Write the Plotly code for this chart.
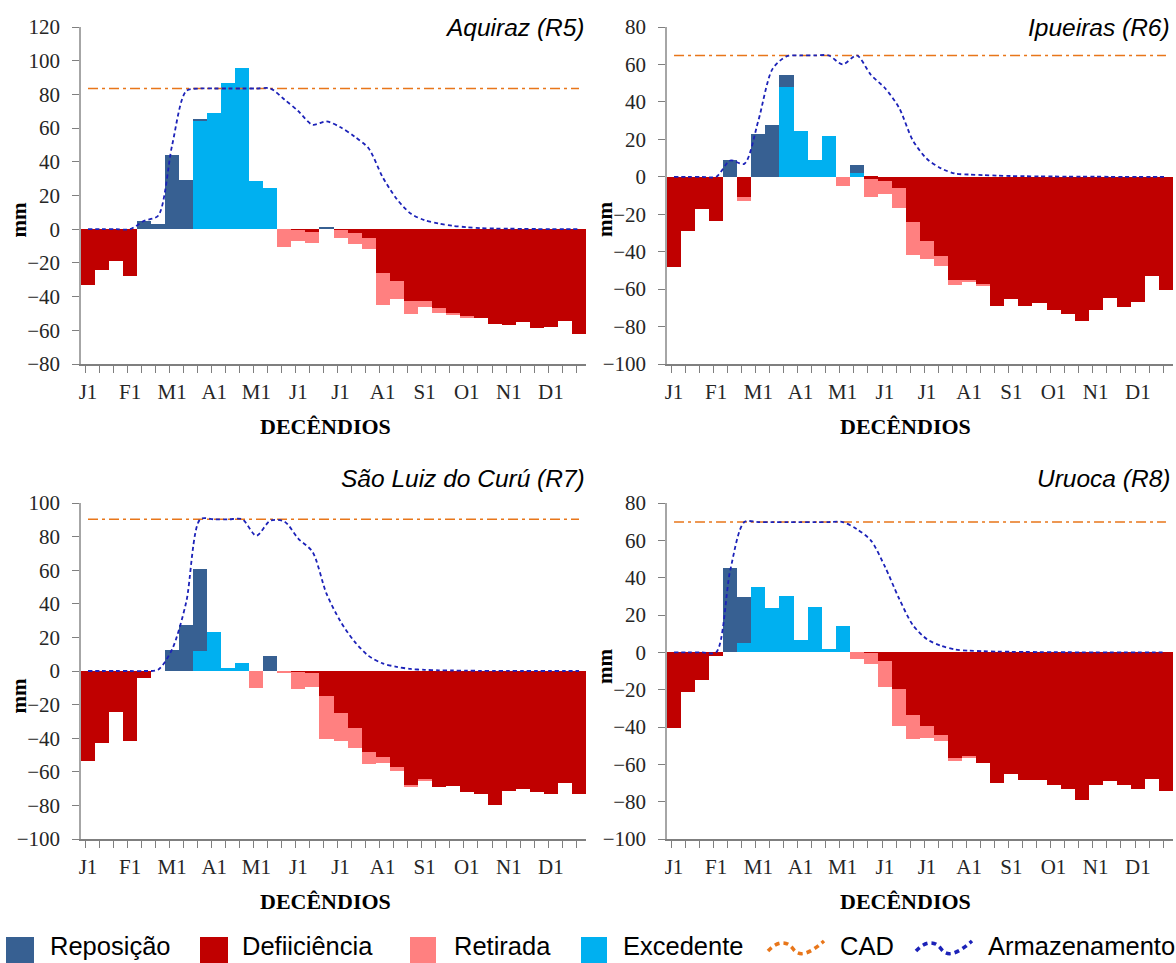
import plotly.graph_objects as go

W, H = 1176, 963

# ---------------- data ----------------
dec_labels = ["J1", "F1", "M1", "A1", "M1", "J1", "J1", "A1", "S1", "O1", "N1", "D1"]
dec_pos = list(range(0, 36, 3))
decendio = list(range(36))

stations = ["Aquiraz (R5)", "Ipueiras (R6)", "São Luiz do Curú (R7)", "Uruoca (R8)"]
cad = [83.5, 64.8, 90.3, 69.8]

# Aquiraz (R5)
rep_r5 = [0, 0, 0, 0, 5, 3, 44, 29.3, 1.5, 0, 0, 0, 0, 0, 0, 0, 0, 1.5, 0, 0, 0, 0, 0, 0, 0, 0, 0, 0, 0, 0, 0, 0, 0, 0, 0, 0]
exc_r5 = [0, 0, 0, 0, 0, 0, 0, 0, 64.2, 68.7, 86.7, 95.4, 28.5, 24.2, 0, 0, 0, 0, 0, 0, 0, 0, 0, 0, 0, 0, 0, 0, 0, 0, 0, 0, 0, 0, 0, 0]
def_r5 = [-33.3, -24, -18.6, -28, 0, 0, 0, 0, 0, 0, 0, 0, 0, 0, 0, -0.5, -1.5, 0, -0.6, -2, -5, -25.7, -31, -42.8,
          -42.4, -47, -50, -51.7, -52.7, -56.4, -57, -54.9, -58.6, -58, -54.5, -62.4]
ret_r5 = [0, 0, 0, 0, 0, 0, 0, 0, 0, 0, 0, 0, 0, 0, -10.5, -6.5, -6.5, 0, -4.5, -6.5, -7, -19.4, -10.7, -7.3,
          -3.7, -2.5, -1, -0.5, 0, 0, 0, 0, 0, 0, 0, 0]
arm_r5 = [0, 0, 0, 0, 5, 8, 50, 82, 83.5, 83.5, 83.5, 83.5, 83.5, 83.5, 77, 70, 62, 64, 60.5, 55, 48, 31, 18, 9.3,
          5.3, 3.4, 2, 1.2, 0.6, 0.4, 0.3, 0.2, 0.1, 0.1, 0, 0]

# Ipueiras (R6)
rep_r6 = [0, 0, 0, 0, 8.7, 0, 23.1, 27.4, 6.5, 0, 0, 0, 0, 4.3, 0, 0, 0, 0, 0, 0, 0, 0, 0, 0, 0, 0, 0, 0, 0, 0, 0, 0, 0, 0, 0, 0]
exc_r6 = [0, 0, 0, 0, 0, 0, 0, 0, 48, 24.5, 8.9, 21.7, 0, 1.8, 0, 0, 0, 0, 0, 0, 0, 0, 0, 0, 0, 0, 0, 0, 0, 0, 0, 0, 0, 0, 0, 0]
def_r6 = [-48, -29, -17.4, -23.5, 0, -11, 0, 0, 0, 0, 0, 0, 0, 0, -1, -2, -6, -24.2, -34.3, -42.5, -55.1, -55.6,
          -57.7, -68.8, -65.4, -68.8, -67.5, -71.1, -73.4, -76.8, -71.1, -64.9, -69.5, -67, -52.8, -60.4]
ret_r6 = [0, 0, 0, 0, 0, -1.8, 0, 0, 0, 0, 0, 0, -5, 0, -10, -7, -10.5, -17.7, -9.8, -4.9, -2.8, -0.5, -0.2, 0,
          0, 0, 0, 0, 0, 0, 0, 0, 0, 0, 0, 0]
arm_r6 = [0, 0, 0, 0, 8.7, 6.9, 30, 57.5, 64.3, 64.8, 64.8, 64.8, 60, 64.8, 54.5, 47.4, 37, 19.3, 9.5, 4.5, 1.7,
          1.2, 0.9, 0.6, 0.4, 0.3, 0.2, 0.15, 0.1, 0.1, 0.05, 0, 0, 0, 0, 0]

# São Luiz do Curú (R7)
rep_r7 = [0, 0, 0, 0, 0, 0, 12.8, 27.5, 49.1, 0, 0, 0, 0, 9, 0, 0, 0, 0, 0, 0, 0, 0, 0, 0, 0, 0, 0, 0, 0, 0, 0, 0, 0, 0, 0, 0]
exc_r7 = [0, 0, 0, 0, 0, 0, 0, 0, 11.8, 23.3, 1.7, 4.9, 0, 0, 0, 0, 0, 0, 0, 0, 0, 0, 0, 0, 0, 0, 0, 0, 0, 0, 0, 0, 0, 0, 0, 0]
def_r7 = [-53.7, -42.7, -24.5, -41.5, -3.9, 0, 0, 0, 0, 0, 0, 0, 0, 0, 0, -0.5, -1.2, -14.7, -24.8, -34.2, -48,
          -51, -57, -67.9, -64.5, -68.9, -68.5, -71.9, -73.5, -79.8, -71.5, -70.3, -72, -73.3, -66.9, -73.5]
ret_r7 = [0, 0, 0, 0, 0, 0, 0, 0, 0, 0, 0, 0, -10.2, 0, -0.8, -10.1, -8.2, -25.6, -17, -11.4, -7.5, -4, -2.4,
          -1.4, -0.5, 0, 0, 0, 0, 0, 0, 0, 0, 0, 0, 0]
arm_r7 = [0, 0, 0, 0, 0, 0.8, 13, 41, 90.3, 90.3, 90.3, 90.3, 80.5, 89.5, 89, 78.7, 71, 46, 29.5, 17.5, 9, 4.5,
          2.5, 1.2, 0.7, 0.4, 0.3, 0.2, 0.1, 0.1, 0.05, 0, 0, 0, 0, 0]

# Uruoca (R8)
rep_r8 = [0, 0, 0, 0, 45.2, 24.6, 0, 0, 0, 0, 0, 0, 0, 0, 0, 0, 0, 0, 0, 0, 0, 0, 0, 0, 0, 0, 0, 0, 0, 0, 0, 0, 0, 0, 0, 0]
exc_r8 = [0, 0, 0, 0, 0, 4.8, 34.9, 24, 30.3, 6.7, 24.2, 1.9, 14.1, 0, 0, 0, 0, 0, 0, 0, 0, 0, 0, 0, 0, 0, 0, 0, 0, 0, 0, 0, 0, 0, 0, 0]
def_r8 = [-40.4, -21, -15, -1.9, 0, 0, 0, 0, 0, 0, 0, 0, 0, 0, -0.5, -4.6, -19.5, -33.5, -39.3, -44.5, -56.5,
          -55.7, -59.3, -70, -65.4, -68.2, -68.2, -71.3, -73.4, -79.3, -70.9, -69.1, -71.3, -73, -67.7, -74.3]
ret_r8 = [0, 0, 0, 0, 0, 0, 0, 0, 0, 0, 0, 0, 0, -3.7, -5.7, -14.2, -19.7, -12.8, -6.5, -3, -1.9, -0.4, 0, 0,
          0, 0, 0, 0, 0, 0, 0, 0, 0, 0, 0, 0]
arm_r8 = [0, 0, 0, 0, 44, 69.8, 69.8, 69.8, 69.8, 69.8, 69.8, 69.8, 69.8, 66, 60, 46, 29, 14.5, 7, 3.5, 1.5,
          0.9, 0.6, 0.4, 0.3, 0.2, 0.15, 0.1, 0.05, 0, 0, 0, 0, 0, 0, 0]

reposicao = [rep_r5, rep_r6, rep_r7, rep_r8]
excedente = [exc_r5, exc_r6, exc_r7, exc_r8]
deficiencia = [def_r5, def_r6, def_r7, def_r8]
retirada = [ret_r5, ret_r6, ret_r7, ret_r8]
armazenamento = [arm_r5, arm_r6, arm_r7, arm_r8]
y_ranges = [(-80, 120), (-100, 80), (-100, 100), (-100, 80)]

# ---------------- style ----------------
C_REP = "#376092"
C_DEF = "#C00000"
C_RET = "#FF8080"
C_EXC = "#00B0F0"
C_CAD = "#E8761A"
C_ARM = "#1C22B8"
SERIF = "Liberation Serif, Times New Roman, serif"
SANS = "Liberation Sans, Arial, sans-serif"

# plot areas in pixels: (left, right, top, bottom)
areas = [(81, 586, 27, 364), (667, 1173, 27, 364), (81, 586, 503, 839), (667, 1173, 503, 839)]


def px(xp):
    return xp / W


def py(yp):
    return 1 - yp / H


fig = go.Figure()
layout_axes = {}
annotations = []
shapes = []

for k in range(4):
    idx = "" if k == 0 else str(k + 1)
    xa, ya = "x" + idx, "y" + idx
    common = dict(x=decendio, xaxis=xa, yaxis=ya, showlegend=False, marker_line_width=0)
    fig.add_trace(go.Bar(y=excedente[k], name="Excedente", marker_color=C_EXC, **common))
    fig.add_trace(go.Bar(y=reposicao[k], name="Reposição", marker_color=C_REP, **common))
    fig.add_trace(go.Bar(y=deficiencia[k], name="Defiiciência", marker_color=C_DEF, **common))
    fig.add_trace(go.Bar(y=retirada[k], name="Retirada", marker_color=C_RET, **common))
    fig.add_trace(go.Scatter(x=decendio, y=[cad[k]] * len(decendio), xaxis=xa, yaxis=ya, mode="lines",
                             name="CAD", showlegend=False,
                             line=dict(color=C_CAD, width=1.6, dash="10px,4px,3px,4px")))
    fig.add_trace(go.Scatter(x=decendio, y=armazenamento[k], xaxis=xa, yaxis=ya, mode="lines",
                             name="Armazenamento", showlegend=False,
                             line=dict(color=C_ARM, width=1.8, dash="4px,3px", shape="spline", smoothing=0.8)))

    l, r, t, b = areas[k]
    layout_axes["xaxis" + idx] = dict(
        domain=[px(l), px(r)], anchor=ya, range=[-0.5, 35.5], automargin=False,
        tickmode="array", tickvals=dec_pos, ticktext=dec_labels,
        ticks="outside", ticklen=7, tickcolor="rgba(0,0,0,0)",
        minor=dict(tickmode="array", tickvals=[v - 0.2 for v in decendio], ticks="outside",
                   ticklen=7, tickwidth=1.3, tickcolor="#7F7F7F", showgrid=False),
        showline=True, linecolor="#7F7F7F", linewidth=1.5,
        showgrid=False, zeroline=False,
        tickfont=dict(family=SERIF, size=21, color="#262626"), ticklabelstandoff=1,
    )
    ymin, ymax = y_ranges[k]
    layout_axes["yaxis" + idx] = dict(
        domain=[py(b), py(t)], anchor=xa, range=[ymin, ymax], automargin=False,
        tickmode="linear", tick0=0, dtick=20,
        ticks="outside", ticklen=7, tickwidth=1.3, tickcolor="#7F7F7F",
        showline=True, linecolor="#A6A6A6", linewidth=1.5,
        showgrid=False, zeroline=False,
        tickfont=dict(family=SERIF, size=21, color="#262626"), ticklabelstandoff=8,
    )

# station titles
title_pos = [(587, 27), (1172, 27), (587, 478), (1172, 478)]
for k in range(4):
    x0, y0 = title_pos[k]
    annotations.append(dict(text="<i>" + stations[k] + "</i>", x=px(x0), y=py(y0), xref="paper", yref="paper",
                            xanchor="right", yanchor="middle", showarrow=False,
                            font=dict(family=SANS, size=24.5, color="#000000")))

# axis titles
mm_pos = [(18.5, 220), (605, 220), (18.5, 696), (605, 667)]
for (x0, y0) in mm_pos:
    annotations.append(dict(text="<b>mm</b>", x=px(x0), y=py(y0), xref="paper", yref="paper",
                            xanchor="center", yanchor="middle", showarrow=False, textangle=-90,
                            font=dict(family=SERIF, size=21, color="#000000")))
dec_pos_px = [(326, 426), (905, 426), (326, 901), (905, 901)]
for (x0, y0) in dec_pos_px:
    annotations.append(dict(text="<b>DECÊNDIOS</b>", x=px(x0), y=py(y0), xref="paper", yref="paper",
                            xanchor="center", yanchor="middle", showarrow=False,
                            font=dict(family=SERIF, size=22, color="#000000")))

# legend (drawn at the bottom)
leg_y0, leg_y1, leg_yc = 937, 965, 946
legend_boxes = [("Reposição", C_REP, 6, 34, 48), ("Defiiciência", C_DEF, 200, 228, 240),
                ("Retirada", C_RET, 410, 436, 452), ("Excedente", C_EXC, 581, 607, 621)]
for name, col, x0, x1, xt in legend_boxes:
    shapes.append(dict(type="rect", xref="paper", yref="paper", x0=px(x0), x1=px(x1), y0=py(leg_y1), y1=py(leg_y0),
                       fillcolor=col, line=dict(width=0)))
    annotations.append(dict(text=name, x=px(xt), y=py(leg_yc), xref="paper", yref="paper", xanchor="left",
                            yanchor="middle", showarrow=False, font=dict(family=SANS, size=25.5, color="#000000")))


def wave_path(x0, x1, yc):
    w = x1 - x0
    pts = [(x0, yc + 2), (x0 + 0.18 * w, yc - 9), (x0 + 0.35 * w, yc - 8), (x0 + 0.55 * w, yc + 8),
           (x0 + 0.72 * w, yc + 6), (x1, yc - 8)]
    p = "M %f,%f" % (px(pts[0][0]), py(pts[0][1]))
    p += " C %f,%f %f,%f %f,%f" % (px(pts[1][0]), py(pts[1][1]), px(pts[2][0]), py(pts[2][1]),
                                   px(x0 + 0.45 * w), py(yc))
    p += " C %f,%f %f,%f %f,%f" % (px(pts[3][0]), py(pts[3][1]), px(pts[4][0]), py(pts[4][1]),
                                   px(pts[5][0]), py(pts[5][1]))
    return p


for name, col, x0, x1, xt in [("CAD", C_CAD, 768, 824, 838), ("Armazenamento", C_ARM, 916, 972, 986)]:
    shapes.append(dict(type="path", xref="paper", yref="paper", path=wave_path(x0, x1, leg_yc + 3),
                       line=dict(color=col, width=3.5, dash="5px,4px")))
    annotations.append(dict(text=name, x=px(xt), y=py(leg_yc), xref="paper", yref="paper", xanchor="left",
                            yanchor="middle", showarrow=False, font=dict(family=SANS, size=25.5, color="#000000")))

fig.update_layout(
    width=W, height=H, margin=dict(l=0, r=0, t=0, b=0, autoexpand=False),
    paper_bgcolor="white", plot_bgcolor="white",
    barmode="relative", bargap=0, showlegend=False,
    annotations=annotations, shapes=shapes,
    **layout_axes,
)

fig.write_html("out.html")
